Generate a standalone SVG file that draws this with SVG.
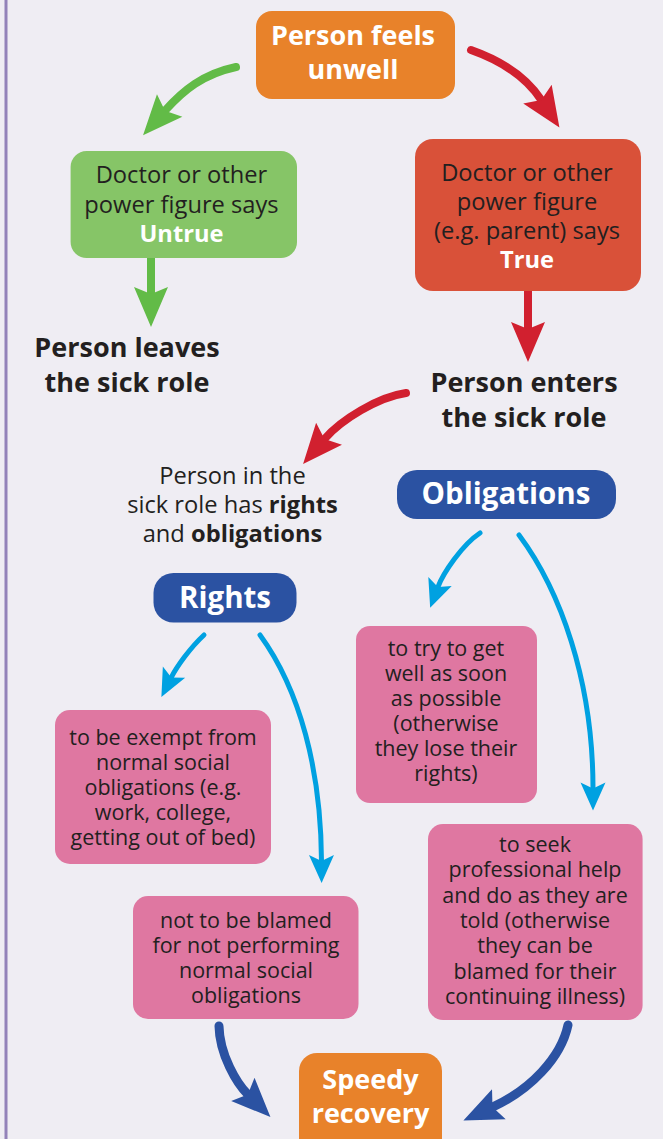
<svg xmlns="http://www.w3.org/2000/svg" width="663" height="1139" viewBox="0 0 663 1139">
<style>
text{font-family:"Open Sans","Liberation Sans",sans-serif;text-anchor:middle}
.big{font-size:27px;font-weight:bold;fill:#fff}
.pill{font-size:29.5px;font-weight:bold;fill:#fff}
.bigk{font-size:27px;font-weight:bold;fill:#231f20}
.mid{font-size:23.7px;fill:#231f20}
.sm{font-size:21.5px;fill:#231f20}
.w{fill:#fff;font-weight:bold}
.b{font-weight:bold}
.orange{fill:#e8822a}
.green{fill:#86c567}
.red{fill:#d95139}
.navy{fill:#2b52a2}
.pink{fill:#df77a1}
.conn path{fill:none;stroke-linecap:round}
.g{stroke:#62bb47;stroke-width:8}
.r{stroke:#d1202f;stroke-width:8}
.c{stroke:#00a1e1;stroke-width:5}
.n{stroke:#2b52a2;stroke-width:9}
</style>
<defs>
<marker id="mg" markerUnits="userSpaceOnUse" markerWidth="60" markerHeight="60" refX="7" refY="0" orient="auto" overflow="visible"><path d="M0,-17 L40,0 L0,17 L7,0 Z" fill="#62bb47"/></marker>
<marker id="mr" markerUnits="userSpaceOnUse" markerWidth="60" markerHeight="60" refX="7" refY="0" orient="auto" overflow="visible"><path d="M0,-17 L40,0 L0,17 L7,0 Z" fill="#d1202f"/></marker>
<marker id="mc" markerUnits="userSpaceOnUse" markerWidth="60" markerHeight="60" refX="6" refY="0" orient="auto" overflow="visible"><path d="M0,-12.5 L28,0 L0,12.5 L6,0 Z" fill="#00a1e1"/></marker>
<marker id="mn" markerUnits="userSpaceOnUse" markerWidth="60" markerHeight="60" refX="7" refY="0" orient="auto" overflow="visible"><path d="M0,-16.5 L39,0 L0,16.5 L7,0 Z" fill="#2b52a2"/></marker>
</defs>
<rect x="0" y="0" width="663" height="1139" fill="#efedf3"/>
<line x1="6" y1="0" x2="6" y2="1139" stroke="#9382b9" stroke-width="3"/>

<g class="conn" id="connectors">
<path class="g" d="M236,67 C203,74 183,90.5 165,110.7" marker-end="url(#mg)"/>
<path class="r" d="M471,50 C505,62 527.5,79 541.3,100" marker-end="url(#mr)"/>
<path class="g" d="M151,258 V294" marker-end="url(#mg)"/>
<path class="r" d="M528,291 V329" marker-end="url(#mr)"/>
<path class="r" d="M406,393 C378,397 340.7,420 324.5,439" marker-end="url(#mr)"/>
<path class="c" d="M480,533 C462,545 443.2,573 437.9,587.1" marker-end="url(#mc)"/>
<path class="c" d="M519,535 C560,590 593,680 593,788.5" marker-end="url(#mc)"/>
<path class="c" d="M204,635 C190,648 176.7,666.7 171.3,677.4" marker-end="url(#mc)"/>
<path class="c" d="M260,635 C300,690 321,770 321.5,861" marker-end="url(#mc)"/>
<path class="n" d="M219,1026 C219.5,1055 237.2,1083.8 247.8,1094.4" marker-end="url(#mn)"/>
<path class="n" d="M568,1025 C561,1058 530,1090 492.5,1107.1" marker-end="url(#mn)"/>
</g>

<g id="unwell">
<rect class="orange" x="256" y="11" width="199" height="88" rx="16"/>
<text class="big" x="353" y="45">Person feels</text>
<text class="big" x="353" y="79">unwell</text>
</g>

<g id="untrue">
<rect class="green" x="70.6" y="151" width="226.4" height="107" rx="16"/>
<text class="mid" x="181.5" y="183">Doctor or other</text>
<text class="mid" x="181.5" y="212.5">power figure says</text>
<text class="mid w" x="181.5" y="242">Untrue</text>
</g>

<g id="true">
<rect class="red" x="415" y="139" width="226" height="152" rx="18"/>
<text class="mid" x="527" y="181">Doctor or other</text>
<text class="mid" x="527" y="210">power figure</text>
<text class="mid" x="527" y="239">(e.g. parent) says</text>
<text class="mid w" x="527" y="268">True</text>
</g>

<g id="leaves">
<text class="bigk" x="127" y="357">Person leaves</text>
<text class="bigk" x="127" y="392">the sick role</text>
</g>

<g id="enters">
<text class="bigk" x="524" y="392">Person enters</text>
<text class="bigk" x="524" y="427">the sick role</text>
</g>

<g id="rights-obligations">
<text class="mid" x="232.5" y="484">Person in the</text>
<text class="mid" x="232.5" y="513">sick role has <tspan class="b">rights</tspan></text>
<text class="mid" x="232.5" y="542">and <tspan class="b">obligations</tspan></text>
</g>

<g id="obligations">
<rect class="navy" x="397" y="470" width="219" height="49" rx="20"/>
<text class="pill" x="506" y="504">Obligations</text>
</g>

<g id="rights">
<rect class="navy" x="153.5" y="573" width="143" height="49.5" rx="20"/>
<text class="pill" x="225" y="608">Rights</text>
</g>

<g id="get-well">
<rect class="pink" x="356" y="626" width="181" height="177" rx="14"/>
<text class="sm" x="446" y="656">to try to get</text>
<text class="sm" x="446" y="681">well as soon</text>
<text class="sm" x="446" y="706">as possible</text>
<text class="sm" x="446" y="731">(otherwise</text>
<text class="sm" x="446" y="756">they lose their</text>
<text class="sm" x="446" y="781">rights)</text>
</g>

<g id="exempt">
<rect class="pink" x="55" y="710" width="216" height="154" rx="15"/>
<text class="sm" x="163" y="745">to be exempt from</text>
<text class="sm" x="163" y="770">normal social</text>
<text class="sm" x="163" y="795">obligations (e.g.</text>
<text class="sm" x="163" y="820">work, college,</text>
<text class="sm" x="163" y="845">getting out of bed)</text>
</g>

<g id="not-blamed">
<rect class="pink" x="133" y="896" width="225.5" height="123" rx="15"/>
<text class="sm" x="246" y="928">not to be blamed</text>
<text class="sm" x="246" y="953">for not performing</text>
<text class="sm" x="246" y="978">normal social</text>
<text class="sm" x="246" y="1003">obligations</text>
</g>

<g id="seek-help">
<rect class="pink" x="428" y="824" width="214.6" height="196" rx="15"/>
<text class="sm" x="535" y="852">to seek</text>
<text class="sm" x="535" y="877">professional help</text>
<text class="sm" x="535" y="903">and do as they are</text>
<text class="sm" x="535" y="928">told (otherwise</text>
<text class="sm" x="535" y="953">they can be</text>
<text class="sm" x="535" y="979">blamed for their</text>
<text class="sm" x="535" y="1004">continuing illness)</text>
</g>

<g id="recovery">
<rect class="orange" x="299" y="1053" width="143" height="110" rx="18"/>
<text class="big" x="370.5" y="1089">Speedy</text>
<text class="big" x="370.5" y="1123">recovery</text>
</g>
</svg>
